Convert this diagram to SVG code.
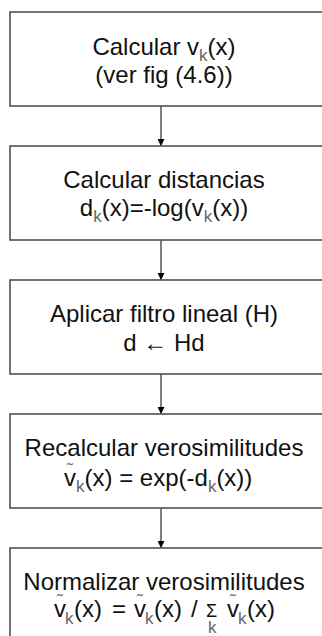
<svg xmlns="http://www.w3.org/2000/svg" width="322" height="636" viewBox="0 0 322 636">
<defs>
<marker id="ah" viewBox="0 0 8 8" refX="8" refY="4" markerWidth="7" markerHeight="7" markerUnits="userSpaceOnUse" orient="auto">
<path d="M0,0 L8,4 L0,8 Z" fill="#000"/>
</marker>
</defs>
<style>
.box{fill:#fff;stroke:#505050;stroke-width:1.6}
.t{font-family:"Liberation Sans",Arial,sans-serif;font-size:24px;fill:#111}
.c{text-anchor:middle}
.s{font-size:17px;fill:#666}
.til{font-family:"Liberation Sans",Arial,sans-serif;font-size:18px;fill:#777;text-anchor:middle}
.edge{stroke:#000;stroke-width:1;fill:none}
</style>
<rect width="322" height="636" fill="#fff"/>
<g id="connectors">
<line class="edge" x1="161" y1="106" x2="161" y2="146" marker-end="url(#ah)"/>
<line class="edge" x1="161" y1="240" x2="161" y2="280" marker-end="url(#ah)"/>
<line class="edge" x1="161" y1="374" x2="161" y2="414" marker-end="url(#ah)"/>
<line class="edge" x1="161" y1="508" x2="161" y2="548" marker-end="url(#ah)"/>
</g>
<g id="n1">
<rect class="box" x="10" y="12" width="330" height="94"/>
<text class="t c" x="164" y="55">Calcular v<tspan class="s" dy="6">k</tspan><tspan dy="-6">(x)</tspan></text>
<text class="t c" x="164" y="83">(ver fig (4.6))</text>
</g>
<g id="n2">
<rect class="box" x="10" y="146" width="330" height="94"/>
<text class="t c" x="164" y="188">Calcular distancias</text>
<text class="t c" x="164" y="216">d<tspan class="s" dy="6">k</tspan><tspan dy="-6">(x)=-log(v</tspan><tspan class="s" dy="6">k</tspan><tspan dy="-6">(x))</tspan></text>
</g>
<g id="n3">
<rect class="box" x="10" y="280" width="330" height="94"/>
<text class="t c" x="164" y="322">Aplicar filtro lineal (H)</text>
<text class="t c" x="164" y="351">d ← Hd</text>
</g>
<g id="n4">
<rect class="box" x="10" y="414" width="330" height="94"/>
<text class="t c" x="164" y="456">Recalcular verosimilitudes</text>
<text class="t" x="64" y="486">v<tspan class="s" dy="6">k</tspan><tspan dy="-6">(x) = exp(-d</tspan><tspan class="s" dy="6">k</tspan><tspan dy="-6">(x))</tspan></text>
<text class="til" x="70" y="476">˜</text>
</g>
<g id="n5">
<rect class="box" x="10" y="548" width="330" height="100"/>
<text class="t c" x="164" y="590">Normalizar verosimilitudes</text>
<text class="t" y="617"><tspan x="54">v</tspan><tspan class="s" x="65" dy="7">k</tspan><tspan x="74" dy="-7">(x)</tspan><tspan x="112">=</tspan><tspan x="134">v</tspan><tspan class="s" x="145" dy="7">k</tspan><tspan x="154" dy="-7">(x)</tspan><tspan x="191">/</tspan><tspan x="206" font-size="18">Σ</tspan><tspan x="227">v</tspan><tspan class="s" x="238" dy="7">k</tspan><tspan x="247" dy="-7">(x)</tspan></text>
<text class="t s" x="208" y="633">k</text>
<text class="til" x="60" y="607">˜</text>
<text class="til" x="140" y="607">˜</text>
<text class="til" x="233" y="607">˜</text>
</g>
</svg>
